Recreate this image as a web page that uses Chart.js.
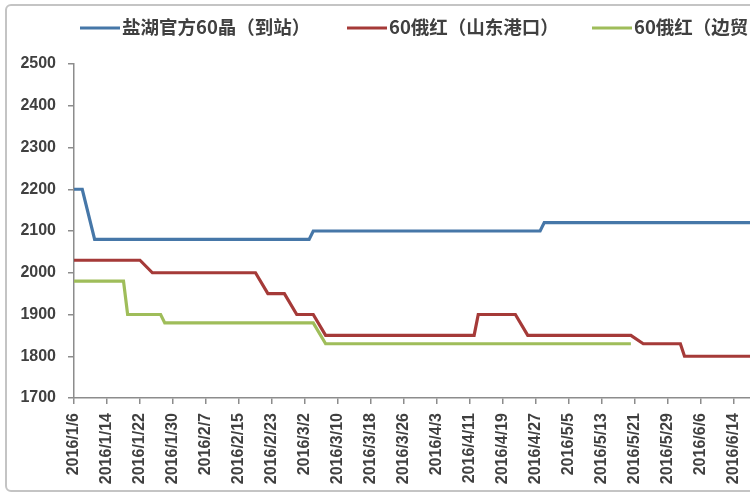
<!DOCTYPE html>
<html>
<head>
<meta charset="utf-8">
<script src="https://cdn.jsdelivr.net/npm/chart.js@4.4.1/dist/chart.umd.min.js"></script>
<style>
    html, body { margin: 0; padding: 0; background: #fff; }
    #wrap { position: relative; width: 750px; height: 500px; overflow: hidden; }
    #frame {
        position: absolute; left: 5px; top: 4px; width: 820px; height: 488px;
        border: 2px solid #c4c4c4; border-radius: 6px; box-sizing: border-box;
    }
    #box { position: absolute; left: 0; top: 0; width: 807px; height: 500px; }
</style>
</head>
<body>
<div id="wrap">
    <div id="frame"></div>
    <div id="box"><canvas id="myChart"></canvas></div>
</div>
<script>
// fechas de observacion (dias habiles con cambio de precio)
const fechas = [
    "2016/1/6", "2016/1/8", "2016/1/11", "2016/1/18", "2016/1/19", "2016/1/22",
    "2016/1/25", "2016/1/27", "2016/1/28", "2016/2/19", "2016/2/22", "2016/2/26",
    "2016/2/29", "2016/3/3", "2016/3/4", "2016/3/7", "2016/4/12", "2016/4/13",
    "2016/4/22", "2016/4/25", "2016/4/28", "2016/4/29", "2016/5/20", "2016/5/23",
    "2016/6/1", "2016/6/2", "2016/6/20"
];

const nombres = ["盐湖官方60晶（到站）", "60俄红（山东港口）", "60俄红（边贸口岸）"];

const yanhu = [
    2200, 2200, 2080, 2080, 2080, 2080,
    2080, 2080, 2080, 2080, 2080, 2080,
    2080, 2080, 2100, 2100, 2100, 2100,
    2100, 2100, 2100, 2120, 2120, 2120,
    2120, 2120, 2120
];

const shandong = [
    2030, 2030, 2030, 2030, 2030, 2030,
    2000, 2000, 2000, 2000, 1950, 1950,
    1900, 1900, 1900, 1850, 1850, 1900,
    1900, 1850, 1850, 1850, 1850, 1830,
    1830, 1800, 1800
];

const biangmao = [
    1980, 1980, 1980, 1980, 1900, 1900,
    1900, 1900, 1880, 1880, 1880, 1880,
    1880, 1880, 1880, 1830, 1830, 1830,
    1830, 1830, 1830, 1830, 1830, null,
    null, null, null
];

const yTicks = [1700, 1800, 1900, 2000, 2100, 2200, 2300, 2400, 2500];
const colores = ["#4677a8", "#a53a38", "#9fbd5a"];

const inicio = new Date(2016, 0, 6);

function diaDe(fecha) {
    const p = fecha.split("/");
    const d = new Date(+p[0], +p[1] - 1, +p[2]);
    return Math.round((d - inicio) / 86400000);
}

function fechaDe(dia) {
    const d = new Date(2016, 0, 6 + dia);
    return `${d.getFullYear()}/${d.getMonth() + 1}/${d.getDate()}`;
}

function puntos(serie) {
    return fechas.map((f, i) => ({ x: diaDe(f), y: serie[i] }));
}

// leyenda dibujada a mano (en el original no esta centrada)
const leyendaX = [80, 347, 592];
const leyenda = {
    id: "leyenda",
    afterDraw(chart) {
        const ctx = chart.ctx;
        ctx.save();
        chart.data.datasets.forEach((ds, i) => {
            const x = leyendaX[i];
            const y = 28;
            ctx.strokeStyle = ds.borderColor;
            ctx.lineWidth = 3;
            ctx.beginPath();
            ctx.moveTo(x, y);
            ctx.lineTo(x + 40, y);
            ctx.stroke();
            ctx.fillStyle = "#404040";
            ctx.font = "bold 18.5px 'Noto Sans CJK SC'";
            ctx.textBaseline = "middle";
            ctx.fillText(ds.label, x + 42, y - 1);
        });
        ctx.restore();
    },
};

const series = [yanhu, shandong, biangmao];
const ctx = document.getElementById("myChart");

new Chart(ctx, {
    type: "line",
    data: {
        datasets: series.map((s, i) => ({
            label: nombres[i],
            data: puntos(s),
            borderColor: colores[i],
            backgroundColor: colores[i],
            borderWidth: 3.2,
            pointRadius: 0,
            tension: 0,
            spanGaps: false,
        })),
    },
    options: {
        responsive: true,
        maintainAspectRatio: false,
        animation: false,
        layout: { padding: { top: 64, right: 40, left: 0, bottom: 0 } },
        plugins: {
            legend: { display: false },
            tooltip: { enabled: false },
        },
        scales: {
            x: {
                type: "linear",
                min: 0,
                max: 168,
                afterFit: (scale) => { scale.height = 102; },
                afterBuildTicks: (scale) => {
                    const t = [];
                    for (let v = 0; v <= 168; v += 8) t.push({ value: v });
                    scale.ticks = t;
                },
                ticks: {
                    autoSkip: false,
                    minRotation: 90,
                    maxRotation: 90,
                    padding: 9,
                    color: "#404040",
                    font: { family: "'Liberation Sans'", size: 16, weight: "bold" },
                    callback: (v) => fechaDe(v),
                },
                grid: { drawOnChartArea: false, drawTicks: true, tickLength: 6, color: "#8c8c8c", lineWidth: 1.5 },
                border: { color: "#8c8c8c", width: 1.5 },
            },
            y: {
                min: 1700,
                max: 2500,
                afterFit: (scale) => { scale.width = 74; },
                afterBuildTicks: (scale) => {
                    scale.ticks = yTicks.map((v) => ({ value: v }));
                },
                ticks: {
                    padding: 12,
                    color: "#404040",
                    font: { family: "'Liberation Sans'", size: 16, weight: "bold" },
                    callback: (v) => String(v),
                },
                grid: { drawOnChartArea: false, drawTicks: true, tickLength: 6, color: "#8c8c8c", lineWidth: 1.5 },
                border: { color: "#8c8c8c", width: 1.5 },
            },
        },
    },
    plugins: [leyenda],
});
</script>
</body>
</html>
